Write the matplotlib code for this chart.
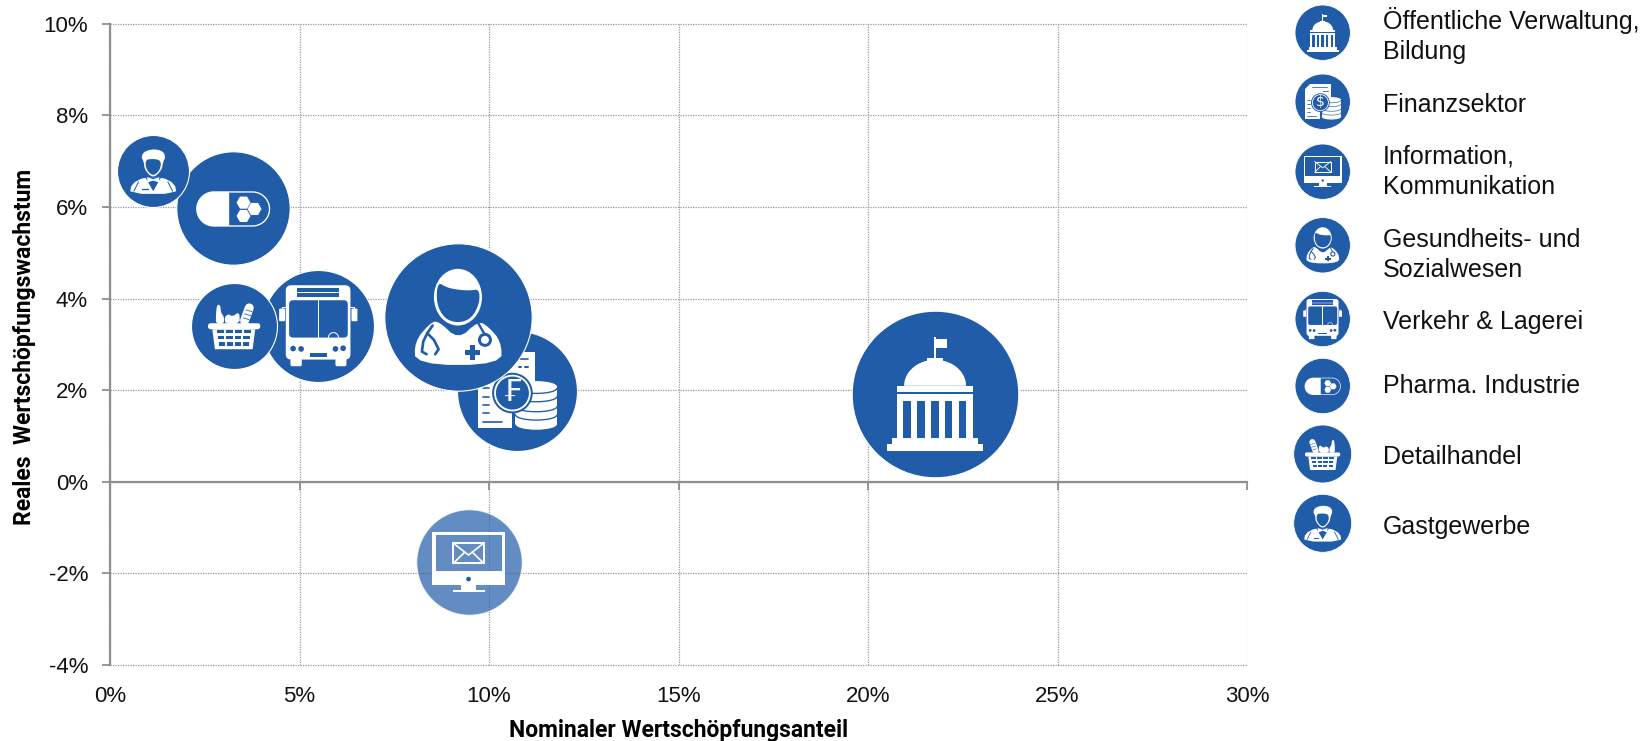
import numpy as np
import matplotlib
matplotlib.use("Agg")
import matplotlib.pyplot as plt
from matplotlib.lines import Line2D
from matplotlib.patches import Circle, Ellipse, FancyBboxPatch, Polygon, Rectangle
from matplotlib.transforms import Affine2D

# chart values, same order as the legend (this is also the draw order)
sectors = ["Öffentliche Verwaltung,\nBildung", "Finanzsektor", "Information,\nKommunikation",
           "Gesundheits- und\nSozialwesen", "Verkehr & Lagerei", "Pharma. Industrie",
           "Detailhandel", "Gastgewerbe"]
nominal_share = [21.77, 10.75, 9.46, 9.18, 5.50, 3.25, 3.27, 1.14]
real_growth = [1.92, 1.98, -1.76, 3.60, 3.41, 5.97, 3.41, 6.78]
bubble_size = [83.3, 60.0, 52.7, 73.7, 56.0, 56.7, 43.0, 36.0]

x_ticks = [0, 5, 10, 15, 20, 25, 30]
x_labels = ["0%", "5%", "10%", "15%", "20%", "25%", "30%"]
y_ticks = [-4, -2, 0, 2, 4, 6, 8, 10]
y_labels = ["-4%", "-2%", "0%", "2%", "4%", "6%", "8%", "10%"]

# layout, in pixels of the figure, y from the top
W, H, DPI = 1644, 741, 100
legend_icon_y = [32.7, 101.7, 171.7, 245.3, 319, 386, 454, 523.3]
legend_icon_r = [27.7, 27.7, 27.7, 27.7, 27.7, 27.7, 29, 29]
legend_text_y = [35.5, 105, 172, 255, 322, 386, 457, 527]

BLUE = "#215ca9"
GREY = "#8f8f8f"
FONT = "Liberation Sans"
INFO_ALPHA = 0.7


def smooth(pts, n=3):
    # corner cutting, closed shape
    pts = np.array(pts, dtype=float)
    for _ in range(n):
        nxt = np.roll(pts, -1, axis=0)
        pts = np.column_stack([0.75 * pts + 0.25 * nxt, 0.25 * pts + 0.75 * nxt]).reshape(-1, 2)
    return pts


def capsule(x0, x1, y0, y1, left=True, right=True):
    r = (y1 - y0) / 2.0
    cy = (y0 + y1) / 2.0
    t = np.linspace(-np.pi / 2, np.pi / 2, 24)
    pts = []
    if right:
        pts += list(zip(x1 - r + r * np.cos(t), cy + r * np.sin(t)))
    else:
        pts += [(x1, y0), (x1, y1)]
    if left:
        pts += list(zip(x0 + r - r * np.cos(t[::-1]), cy + r * np.sin(t[::-1])))
    else:
        pts += [(x0, y1), (x0, y0)]
    return pts


class Pen:
    # draws one icon, coordinates are the ones measured on the zoomed picture
    def __init__(self, ax, cx, cy, r, zx, zy, zr, z, flip=False):
        sx = -r / zr if flip else r / zr
        self.tr = Affine2D().translate(-zx, -zy).scale(sx, -r / zr).translate(cx, cy)
        self.k = r / zr * 72.0 / DPI
        self.ax = ax
        self.z = z

    def _add(self, art):
        art.set_transform(self.tr)
        art.set_clip_on(False)
        art.set_zorder(self.z)
        self.ax.add_artist(art)

    def box(self, x0, y0, x1, y1, color="white"):
        self._add(Rectangle((x0, y0), x1 - x0, y1 - y0, fc=color, ec="none"))

    def rbox(self, x0, y0, x1, y1, rad, color="white"):
        self._add(FancyBboxPatch((x0 + rad, y0 + rad), x1 - x0 - 2 * rad, y1 - y0 - 2 * rad,
                                 boxstyle="round,pad=%f,rounding_size=%f" % (rad, rad),
                                 fc=color, ec="none"))

    def oval(self, x, y, w, h, color="white"):
        self._add(Ellipse((x, y), w, h, fc=color, ec="none"))

    def poly(self, pts, color="white"):
        self._add(Polygon(pts, closed=True, fc=color, ec="none"))

    def line(self, pts, w, color="white"):
        pts = np.array(pts, dtype=float)
        self._add(Line2D(pts[:, 0], pts[:, 1], color=color, lw=w * self.k, solid_capstyle="round"))

    def sym(self, x, y, s, size):
        self.ax.text(x, y, s, transform=self.tr, color="white", fontsize=size * self.k, ha="center",
                     va="center", family="DejaVu Sans", zorder=self.z, clip_on=False, parse_math=False)


def icon_gov(ax, cx, cy, r, z, flip=False):
    p = Pen(ax, cx, cy, r, 315, 311, 250, z)
    p.box(172, 463, 458, 483)
    p.box(187, 443, 443, 463)
    p.box(200, 312, 430, 443)
    for x0, x1 in [(220, 243), (262, 284), (304, 326), (345, 367), (387, 409)]:
        p.box(x0, 332, x1, 443, BLUE)
    p.box(200, 287, 430, 306)
    t = np.linspace(0, np.pi, 40)
    p.poly(np.column_stack([315 + 93 * np.cos(t), 287 - 78 * np.sin(t)]))
    p.box(292, 204, 338, 214)
    p.box(312, 140, 318, 210)
    p.box(318, 147, 350, 172)


def icon_finance(ax, cx, cy, r, z, flip=False, symbol="\u20a3"):
    p = Pen(ax, cx, cy, r, 1312, 813, 180, z)
    p.poly([(1230, 697), (1365, 697), (1365, 925), (1195, 925), (1195, 732)])
    for y in (803, 830, 855, 880):
        p.line([(1210, y), (1228, y)], 5, BLUE)
    p.line([(1210, 905), (1266, 905)], 5, BLUE)
    p.line([(1240, 718), (1343, 718)], 5, BLUE)
    p.line([(1316, 742), (1324, 742)], 6, BLUE)
    p.line([(1336, 742), (1344, 742)], 6, BLUE)
    # coin stack
    p.box(1296, 790, 1440, 935, BLUE)
    t = np.linspace(0, np.pi, 30)
    p.box(1306, 800, 1431, 912)
    p.oval(1368.5, 800, 125, 34)
    p.oval(1368.5, 912, 125, 34)
    for c in (804, 829, 859, 884):
        p.line(np.column_stack([1368.5 + 62.5 * np.cos(t), c + 16 * np.sin(t)]), 4, BLUE)
    p.oval(1297, 819, 122, 122, BLUE)
    p.oval(1297, 819, 110, 110)
    p.oval(1297, 819, 99, 99, BLUE)
    p.sym(1297, 817, symbol, 90)


def icon_finance_legend(ax, cx, cy, r, z, flip=False):
    icon_finance(ax, cx, cy, r, z, symbol="$")


def icon_monitor(ax, cx, cy, r, z, flip=False):
    p = Pen(ax, cx, cy, r, 0, 0, 158, z)
    p.box(-109, -92, 109, -82)
    p.box(-109, -92, -99, 67)
    p.box(99, -92, 109, 67)
    p.box(-109, 25, 109, 67)
    p.box(-23, 67, 23, 83)
    p.box(-48, 83, 48, 90)
    p.oval(0, 50, 14, 14, BLUE)
    p.line([(-46, -58), (46, -58), (46, 3), (-46, 3), (-46, -58)], 6)
    p.line([(-46, -58), (0, -22), (46, -58)], 5)
    p.line([(-46, 3), (-12, -30)], 5)
    p.line([(46, 3), (12, -30)], 5)


def icon_doctor(ax, cx, cy, r, z, flip=False):
    p = Pen(ax, cx, cy, r, 1134, 591, 221, z)
    p.oval(1134, 532, 144, 170)
    p.poly(smooth([(1073, 486), (1100, 503), (1135, 510), (1170, 512), (1198, 508), (1199, 550),
                   (1175, 596), (1134, 610), (1093, 596), (1069, 550)], 2), BLUE)
    p.poly(smooth([(1006, 735), (1004, 665), (1050, 610), (1075, 602), (1135, 660), (1195, 603),
                   (1225, 620), (1264, 665), (1265, 735)], 2))
    p.line([(1058, 617), (1042, 640), (1030, 665), (1026, 695), (1040, 703)], 8, BLUE)
    p.line([(1042, 640), (1062, 660), (1076, 688), (1066, 703)], 8, BLUE)
    p.line([(1195, 610), (1215, 645)], 7, BLUE)
    p.oval(1215, 660, 42, 42, BLUE)
    p.oval(1215, 660, 24, 24)
    p.box(1156, 690, 1200, 706, BLUE)
    p.box(1170, 676, 1186, 720, BLUE)


def icon_bus(ax, cx, cy, r, z, flip=False):
    p = Pen(ax, cx, cy, r, 716, 616, 168, z)
    p.rbox(618, 495, 812, 718, 16)
    p.rbox(632, 705, 666, 738, 5)
    p.rbox(767, 705, 800, 738, 5)
    p.box(652, 503, 778, 530, BLUE)
    p.line([(652, 516), (778, 516)], 3)
    p.rbox(628, 540, 804, 652, 12, BLUE)
    p.box(714, 540, 718, 652)
    t = np.linspace(np.pi, 2 * np.pi, 16)
    p.line(np.column_stack([761 + 15 * np.cos(t), 652 + 15 * np.sin(t)]), 3)
    for x, y in [(640, 685), (664, 686), (767, 686), (790, 684)]:
        p.oval(x, y, 17, 17, BLUE)
    p.box(690, 698, 742, 710, BLUE)
    p.rbox(598, 565, 616, 603, 3)
    p.rbox(815, 565, 833, 603, 3)
    p.line([(607, 568), (607, 560), (620, 560)], 3)
    p.line([(824, 568), (824, 560), (810, 560)], 3)


def icon_pill(ax, cx, cy, r, z, flip=False):
    p = Pen(ax, cx, cy, r, 459, 265, 170, z)
    p.poly(capsule(348, 570, 214, 320))
    p.poly(capsule(447, 566, 218, 316, left=False), BLUE)
    for x, y in [(490, 248), (523, 267), (490, 288)]:
        t = np.arange(6) * np.pi / 3
        p.poly(np.column_stack([x + 21 * np.cos(t), y + 21 * np.sin(t)]))


def icon_basket(ax, cx, cy, r, z, flip=False):
    p = Pen(ax, cx, cy, r, 462, 617, 129, z, flip)
    # bottle, fruit, baguette
    p.poly(smooth([(411, 555), (421, 555), (423, 578), (432, 590), (432, 612), (408, 612), (408, 585)], 1))
    p.poly(smooth([(436, 612), (434, 592), (445, 582), (458, 590), (478, 575), (480, 612)], 1))
    p.line([(494, 602), (508, 564)], 27)
    p.line([(498, 570), (516, 575)], 2.5, BLUE)
    p.line([(494, 582), (512, 587)], 2.5, BLUE)
    p.line([(490, 594), (507, 599)], 2.5, BLUE)
    p.rbox(384, 610, 541, 628, 8)
    p.poly([(397, 628), (526, 628), (518, 688), (405, 688)])
    # holes of the basket
    for y0, y1, a, b in [(630, 640, 408, 516), (647, 658, 411, 513), (667, 677, 414, 510)]:
        xs = np.linspace(a, b, 5)
        for x0, x1 in zip(xs[:-1], xs[1:]):
            p.box(x0 + 3, y0, x1 - 3, y1, BLUE)


def icon_waiter(ax, cx, cy, r, z, flip=False):
    p = Pen(ax, cx, cy, r, 220, 154, 108, z)
    p.poly(smooth([(150, 222), (155, 192), (192, 172), (248, 172), (285, 192), (290, 222)], 1))
    p.poly([(196, 172), (244, 172), (220, 214)], BLUE)
    p.line([(186, 208), (204, 208)], 4, BLUE)
    p.line([(176, 186), (162, 214)], 3, BLUE)
    p.line([(264, 186), (278, 214)], 3, BLUE)
    p.poly(smooth([(192, 126), (184, 112), (192, 95), (222, 87), (250, 94), (257, 112), (249, 128),
                   (246, 150), (220, 176), (194, 150)], 2))
    p.poly(smooth([(197, 120), (215, 117), (243, 120), (242, 148), (220, 170), (198, 148)], 2), BLUE)
    p.poly([(202, 172), (220, 178), (238, 172), (238, 188), (220, 182), (202, 188)])


main_icons = [icon_gov, icon_finance, icon_monitor, icon_doctor, icon_bus, icon_pill, icon_basket, icon_waiter]
legend_icons = [icon_gov, icon_finance_legend, icon_monitor, icon_doctor, icon_bus, icon_pill, icon_basket, icon_waiter]

plt.rcParams["font.family"] = FONT
fig = plt.figure(figsize=(W / DPI, H / DPI), dpi=DPI)
ax = fig.add_axes([110 / W, (H - 665) / H, 1137 / W, 641.3 / H])
ax.set_xlim(0, 30)
ax.set_ylim(-4, 10)

ax.set_xticks(x_ticks)
ax.set_xticklabels(x_labels)
ax.set_yticks(y_ticks)
ax.set_yticklabels(y_labels)
ax.set_axisbelow(True)
ax.grid(True, color="#999999", lw=0.9, ls=(0, (1, 1)))
for gl in ax.get_xgridlines() + ax.get_ygridlines():
    gl.set_clip_on(False)

for side in ("top", "right"):
    ax.spines[side].set_visible(False)
ax.spines["left"].set_color(GREY)
ax.spines["left"].set_linewidth(1.6)
ax.spines["bottom"].set_position("zero")
ax.spines["bottom"].set_color(GREY)
ax.spines["bottom"].set_linewidth(1.6)
ax.tick_params(axis="y", length=5.8, width=1.3, color=GREY, pad=10, labelsize=16, labelcolor="#111111")
ax.tick_params(axis="x", length=5.8, width=1.3, color=GREY, pad=141.5, labelsize=16, labelcolor="#111111")

for i, name in enumerate(sectors):
    z = 5 + i
    alpha = INFO_ALPHA if name.startswith("Information") else 1.0
    ax.scatter(nominal_share[i], real_growth[i], s=(2 * bubble_size[i] * 72.0 / DPI) ** 2, c=BLUE, alpha=alpha,
               edgecolors="white", linewidths=0.8, zorder=z, clip_on=False)
    cx, cy = ax.transData.transform((nominal_share[i], real_growth[i]))
    main_icons[i](ax, cx, cy, bubble_size[i], z)

# legend on the right, icons and text placed by hand
for i, name in enumerate(sectors):
    cx, cy, r = 1322.7, H - legend_icon_y[i], legend_icon_r[i]
    tr = Affine2D().scale(r).translate(cx, cy)
    circ = Circle((0, 0), 1, fc=BLUE, ec="white", lw=0.6, transform=tr, clip_on=False, zorder=20)
    ax.add_artist(circ)
    legend_icons[i](ax, cx, cy, r, 20, flip=(i == 6))
    fig.text(1383 / W, 1 - legend_text_y[i] / H, name, fontsize=18, color="#111111", ha="left",
             va="center", linespacing=1.32)

fig.text(678.5 / W, 1 - 730 / H, "Nominaler Wertschöpfungsanteil", fontsize=16.5, fontweight="bold",
         family="Roboto", color="black", ha="center", va="center")
fig.text(25 / W, 1 - 347 / H, "Reales  Wertschöpfungswachstum", fontsize=16.5, fontweight="bold",
         family="Roboto", color="black", ha="center", va="center", rotation=90)

fig.savefig("out.png", dpi=DPI)
